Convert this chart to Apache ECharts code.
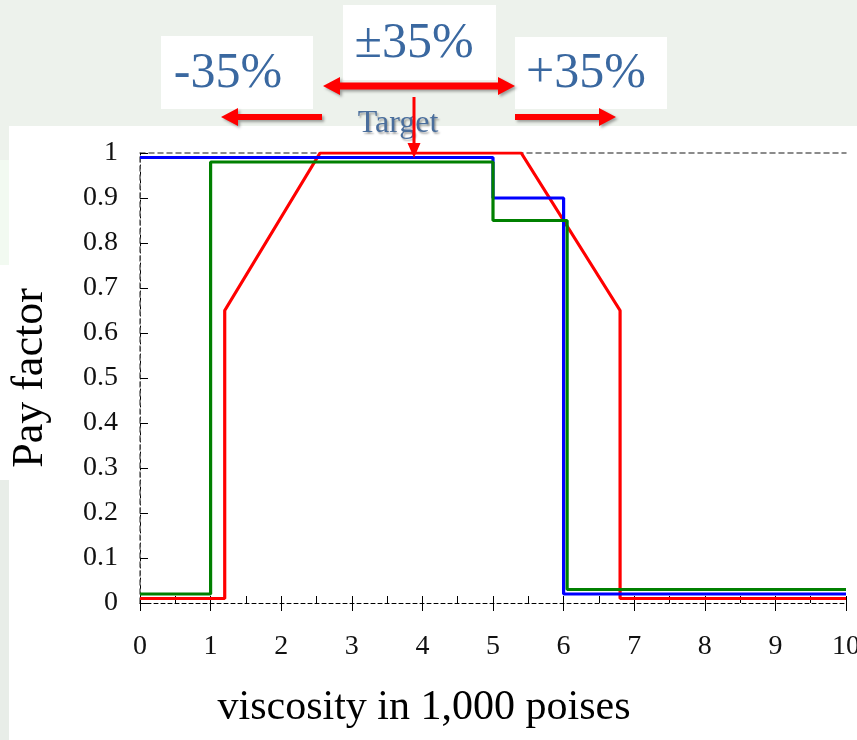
<!DOCTYPE html>
<html>
<head>
<meta charset="utf-8">
<script src="https://cdn.jsdelivr.net/npm/echarts@6/dist/echarts.min.js"></script>
<style>
html,body{margin:0;padding:0;background:#edf2ec;}
#chart{width:857px;height:740px;}
</style>
</head>
<body>
<div id="chart"></div>
<script>
// ---- data ----
const xTicks = [0, 1, 2, 3, 4, 5, 6, 7, 8, 9, 10];
const yTicks = [0, 0.1, 0.2, 0.3, 0.4, 0.5, 0.6, 0.7, 0.8, 0.9, 1];
const xTickLabels = ['0','1','2','3','4','5','6','7','8','9','10'];
const yTickLabels = ['0','0.1','0.2','0.3','0.4','0.5','0.6','0.7','0.8','0.9','1'];
const redX   = [0, 1.2, 1.2, 2.55, 5.4, 6.8, 6.8, 10];
const redY   = [0.01, 0.01, 0.65, 1.0, 1.0, 0.65, 0.01, 0.01];
const blueX  = [0, 5, 5, 6, 6, 10];
const blueY  = [0.99, 0.99, 0.9, 0.9, 0.02, 0.02];
const greenX = [0, 1, 1, 5, 5, 6.05, 6.05, 10];
const greenY = [0.02, 0.02, 0.98, 0.98, 0.85, 0.85, 0.03, 0.03];
const xTitle = 'viscosity in 1,000 poises';
const yTitle = 'Pay factor';
const labelMinus = '-35%';
const labelPM = '±35%';
const labelPlus = '+35%';
const labelTarget = 'Target';

const pairs = (xs, ys) => xs.map((x, i) => [x, ys[i]]);
const serif = '"Liberation Serif","Times New Roman",serif';
const chart = echarts.init(document.getElementById('chart'));

const arrowStyle = {
  fill: '#ff0000',
  shadowColor: 'rgba(0,0,0,0.35)', shadowBlur: 3, shadowOffsetX: 2, shadowOffsetY: 2
};

chart.setOption({
  animation: false,
  backgroundColor: '#edf2ec',
  grid: { left: 140, right: 11, top: 153, bottom: 137, containLabel: false, outerBoundsMode: 'none' },
  xAxis: [
    {
      type: 'value', min: 0, max: 10, interval: 1, position: 'bottom',
      axisLine: { lineStyle: { color: '#000', type: [4, 3], width: 1 } },
      axisTick: { show: true, inside: false, length: 8, lineStyle: { color: '#000', width: 1 } },
      axisLabel: { margin: 30, fontSize: 28, color: '#111', fontFamily: serif,
        formatter: v => { const i = xTicks.indexOf(v); return i >= 0 ? xTickLabels[i] : ''; } },
      splitLine: { show: false },
      name: xTitle, nameLocation: 'middle', nameGap: 84,
      nameTextStyle: { fontSize: 42, color: '#000', fontFamily: serif, padding: [0, 138, 0, 0] }
    },
    {
      type: 'value', min: 0, max: 10, interval: 1, position: 'bottom',
      axisLine: { show: false },
      axisTick: { show: true, inside: true, length: 7, lineStyle: { color: '#000', width: 1 } },
      minorTick: { show: true, splitNumber: 2, length: 7, lineStyle: { color: '#000', width: 1 } },
      axisLabel: { show: false }, splitLine: { show: false }
    },
    {
      type: 'value', min: 0, max: 10, interval: 1, position: 'top',
      axisLine: { lineStyle: { color: '#666', type: [5, 4], width: 1.5 } },
      axisTick: { show: false }, axisLabel: { show: false }, splitLine: { show: false }
    }
  ],
  yAxis: [
    {
      type: 'value', min: 0, max: 1, interval: 0.1, position: 'left',
      axisLine: { lineStyle: { color: '#000', type: [4, 3], width: 1 } },
      axisTick: { show: true, inside: true, length: 8, lineStyle: { color: '#000', width: 1 } },
      axisLabel: { margin: 22, fontSize: 28, color: '#111', fontFamily: serif,
        formatter: v => { const i = yTicks.findIndex(t => Math.abs(t - v) < 1e-9); return i >= 0 ? yTickLabels[i] : ''; } },
      splitLine: { show: false },
      name: yTitle, nameLocation: 'middle', nameGap: 88, nameRotate: 90,
      nameTextStyle: { fontSize: 44, color: '#000', fontFamily: serif }
    },
    {
      type: 'value', min: 0, max: 1, interval: 0.1, position: 'right',
      axisLine: { lineStyle: { color: '#666', type: [5, 4], width: 1.5 } },
      axisTick: { show: false }, axisLabel: { show: false }, splitLine: { show: false }
    }
  ],
  series: [
    { type: 'line', xAxisIndex: 0, yAxisIndex: 0, data: pairs(redX, redY), showSymbol: false,
      lineStyle: { color: '#ff0000', width: 3.2 }, z: 3 },
    { type: 'line', xAxisIndex: 0, yAxisIndex: 0, data: pairs(blueX, blueY), showSymbol: false,
      lineStyle: { color: '#0000ff', width: 3.2 }, z: 4 },
    { type: 'line', xAxisIndex: 0, yAxisIndex: 0, data: pairs(greenX, greenY), showSymbol: false,
      lineStyle: { color: '#008000', width: 3.2 }, z: 5 }
  ],
  graphic: [
    // background panels
    { type: 'rect', z: -100, shape: { x: 0, y: 160, width: 9, height: 105 }, style: { fill: '#f2faf1' } },
    { type: 'rect', z: -100, shape: { x: 0, y: 265, width: 9, height: 215 }, style: { fill: '#ffffff' } },
    { type: 'rect', z: -100, shape: { x: 0, y: 480, width: 9, height: 260 }, style: { fill: '#e8ede8' } },
    { type: 'rect', z: -100, shape: { x: 9, y: 126, width: 848, height: 614 }, style: { fill: '#ffffff' } },
    // label boxes
    { type: 'rect', z: 50, shape: { x: 161, y: 36, width: 152, height: 73 }, style: { fill: '#ffffff' } },
    { type: 'rect', z: 50, shape: { x: 343, y: 5, width: 153, height: 75 }, style: { fill: '#ffffff' } },
    { type: 'rect', z: 50, shape: { x: 515, y: 37, width: 152, height: 72 }, style: { fill: '#ffffff' } },
    { type: 'text', z: 60, x: 228, y: 74, style: { text: labelMinus, fill: '#3a68a0', font: '50px ' + serif, align: 'center', verticalAlign: 'middle' } },
    { type: 'text', z: 60, x: 414, y: 44, style: { text: labelPM, fill: '#3a68a0', font: '50px ' + serif, align: 'center', verticalAlign: 'middle' } },
    { type: 'text', z: 60, x: 586, y: 74, style: { text: labelPlus, fill: '#3a68a0', font: '50px ' + serif, align: 'center', verticalAlign: 'middle' } },
    // arrows
    { type: 'polygon', z: 70, shape: { points: [[323,86],[340,77],[340,82.5],[498,82.5],[498,77],[515,86],[498,95],[498,89.5],[340,89.5],[340,95]] }, style: arrowStyle },
    { type: 'polygon', z: 70, shape: { points: [[221,117],[238,108],[238,114],[322,114],[322,120],[238,120],[238,126]] }, style: arrowStyle },
    { type: 'polygon', z: 70, shape: { points: [[515,114],[599,114],[599,108],[616,117],[599,126],[599,120],[515,120]] }, style: arrowStyle },
    { type: 'text', z: 80, x: 398, y: 124, style: { text: labelTarget, fill: '#4a6e9c', font: '32px ' + serif, align: 'center', verticalAlign: 'middle',
      textShadowColor: 'rgba(0,0,0,0.35)', textShadowBlur: 2, textShadowOffsetX: 1.5, textShadowOffsetY: 1.5 } },
    { type: 'polygon', z: 90, shape: { points: [[412.5,97],[415.5,97],[415.5,143],[420.5,143],[414,158],[407.5,143],[412.5,143]] }, style: { fill: '#ff0000' } }
  ]
});
</script>
</body>
</html>
